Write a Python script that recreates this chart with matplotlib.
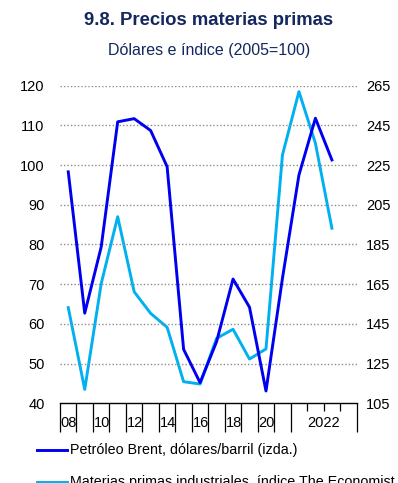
import numpy as np
import matplotlib.pyplot as plt
from matplotlib.lines import Line2D
import matplotlib.transforms as mtransforms

plt.rcParams['font.family'] = ['Liberation Sans', 'DejaVu Sans']

navy = '#14275E'
colour_brent = '#0000F0'
colour_econ = '#00B0F0'

# annual points, 2008 onwards (one per category)
brent = [98.3, 62.7, 79.4, 110.9, 111.7, 108.7, 99.6, 53.6, 45.2, 55.5,
         71.3, 64.2, 43.1, 71.5, 97.5, 111.8, 101.3]
economist = [153.2, 112.0, 165.3, 199.0, 161.2, 150.3, 143.3, 115.9, 114.7,
             137.7, 142.3, 127.3, 132.4, 230.1, 262.0, 236.0, 193.2]
year_labels = ['08', '10', '12', '14', '16', '18', '20']
last_label = '2022'
n_cats = 18

fig = plt.figure(figsize=(3.98, 4.83), dpi=100)
ax = fig.add_axes([0.1508, 0.165, 0.896 - 0.1508, 0.8226 - 0.165])
ax2 = ax.twinx()

x = np.arange(len(brent)) + 0.5
ax.plot(x, brent, color=colour_brent, lw=2.1, zorder=3)
ax2.plot(x, economist, color=colour_econ, lw=2.1, zorder=2)
ax.set_zorder(ax2.get_zorder() + 1)
ax.patch.set_visible(False)

ax.set_xlim(0, n_cats)
ax.set_ylim(40, 120)
ax2.set_ylim(105, 265)
ax.set_yticks(np.arange(40, 121, 10))
ax2.set_yticks(np.arange(105, 266, 20))

for v in np.arange(50, 121, 10):
    ax.axhline(v, color='#8C8C8C', lw=1.0, ls=(0, (1, 1.5)), zorder=1)

for a in (ax, ax2):
    for s in ('top', 'left', 'right', 'bottom'):
        a.spines[s].set_visible(False)
    a.tick_params(axis='y', length=0, labelsize=10.5, colors='black')
ax.tick_params(axis='y', pad=11)
ax2.tick_params(axis='y', pad=7)

# category axis: long ticks up to 2022, short ticks in the last group
ax.spines['bottom'].set_visible(True)
ax.spines['bottom'].set_linewidth(1.0)
ax.set_xticks(list(range(0, 15)) + [n_cats])
ax.set_xticks([15, 16, 17], minor=True)
ax.tick_params(axis='x', which='major', length=21, width=0.9, direction='out',
               labelbottom=False)
ax.tick_params(axis='x', which='minor', length=6, width=0.9, direction='out')

trans = mtransforms.blended_transform_factory(ax.transData, ax.transAxes)
for i, lab in enumerate(year_labels):
    ax.text(2 * i + 0.05, -0.063, lab, transform=trans, ha='left', va='center',
            fontsize=10.5)
ax.text(16, -0.063, last_label, transform=trans, ha='center', va='center',
        fontsize=10.5)

fig.text(0.525, 0.958, '9.8. Precios materias primas', ha='center', va='center',
         fontsize=13.3, fontweight='bold', color=navy)
fig.text(0.526, 0.896, 'Dólares e índice (2005=100)', ha='center', va='center',
         fontsize=11.5, color=navy)

# legend drawn below the plot
for y, col, lab in [(450, colour_brent, 'Petróleo Brent, dólares/barril (izda.)'),
                    (482, colour_econ, 'Materias primas industriales, índice The Economist')]:
    yf = 1 - y / 483
    fig.add_artist(Line2D([37 / 398, 67 / 398], [yf, yf], color=col, lw=2.1))
    fig.text(70 / 398, yf, lab, ha='left', va='center', fontsize=10.3)

fig.savefig('out.png', dpi=100)
